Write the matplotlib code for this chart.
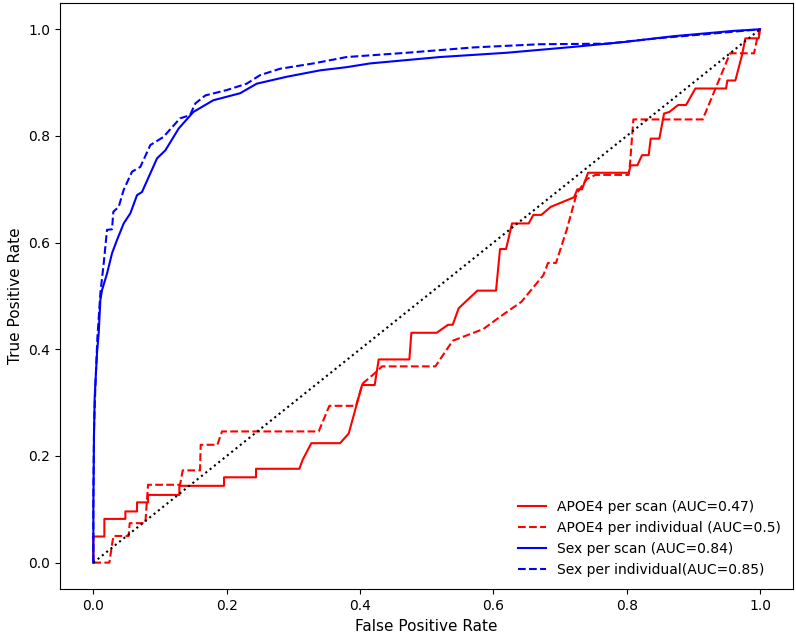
import matplotlib
matplotlib.use('Agg')
import matplotlib.pyplot as plt

# APOE4 per scan
apoe_scan_fpr = [0, 0, 0.0165, 0.0165, 0.048, 0.048, 0.0655, 0.0655, 0.082, 0.082,
                 0.129, 0.129, 0.196, 0.196, 0.244, 0.244, 0.309, 0.314, 0.327, 0.370,
                 0.383, 0.403, 0.422, 0.428, 0.474, 0.477, 0.515, 0.532, 0.539, 0.548,
                 0.576, 0.604, 0.610, 0.619, 0.628, 0.653, 0.660, 0.672, 0.686, 0.721,
                 0.726, 0.733, 0.742, 0.803, 0.806, 0.816, 0.823, 0.833, 0.836, 0.849,
                 0.856, 0.864, 0.877, 0.889, 0.903, 0.949, 0.951, 0.963, 0.973, 0.978,
                 0.998, 1.0]
apoe_scan_tpr = [0, 0.049, 0.049, 0.082, 0.082, 0.096, 0.096, 0.113, 0.113, 0.127,
                 0.127, 0.144, 0.144, 0.160, 0.160, 0.176, 0.176, 0.193, 0.224, 0.224,
                 0.242, 0.333, 0.333, 0.381, 0.381, 0.431, 0.431, 0.446, 0.446, 0.477,
                 0.510, 0.510, 0.588, 0.588, 0.636, 0.636, 0.652, 0.652, 0.667, 0.685,
                 0.700, 0.700, 0.731, 0.731, 0.745, 0.745, 0.764, 0.764, 0.795, 0.795,
                 0.842, 0.845, 0.858, 0.858, 0.889, 0.889, 0.904, 0.904, 0.952, 0.983,
                 0.983, 1.0]

# APOE4 per individual
apoe_ind_fpr = [0, 0.024, 0.030, 0.053, 0.0545, 0.078, 0.082, 0.130, 0.134, 0.160,
                0.161, 0.186, 0.193, 0.338, 0.354, 0.394, 0.404, 0.422, 0.433, 0.513,
                0.539, 0.585, 0.610, 0.642, 0.675, 0.682, 0.694, 0.710, 0.725, 0.740,
                0.753, 0.803, 0.805, 0.810, 0.914, 0.955, 0.991, 0.995, 1.0]
apoe_ind_tpr = [0, 0, 0.05, 0.05, 0.074, 0.074, 0.146, 0.146, 0.173, 0.173,
                0.221, 0.221, 0.246, 0.246, 0.294, 0.294, 0.336, 0.355, 0.368, 0.368,
                0.416, 0.438, 0.461, 0.489, 0.539, 0.562, 0.562, 0.624, 0.692, 0.719,
                0.727, 0.727, 0.748, 0.831, 0.831, 0.955, 0.955, 0.979, 1.0]

# Sex per scan
sex_scan_fpr = [0, 0, 0.001, 0.002, 0.0055, 0.008, 0.0105, 0.013, 0.0205, 0.028,
                0.0355, 0.0455, 0.0555, 0.0655, 0.073, 0.083, 0.0955, 0.108, 0.128, 0.150,
                0.180, 0.220, 0.245, 0.290, 0.340, 0.380, 0.415, 0.520, 0.620, 0.720,
                0.795, 0.870, 0.960, 1.0]
sex_scan_tpr = [0, 0.10, 0.243, 0.311, 0.393, 0.430, 0.492, 0.511, 0.542, 0.580,
                0.605, 0.636, 0.655, 0.689, 0.695, 0.723, 0.758, 0.773, 0.814, 0.845,
                0.867, 0.880, 0.898, 0.911, 0.923, 0.929, 0.936, 0.948, 0.956, 0.967,
                0.976, 0.987, 0.997, 1.0]

# Sex per individual
sex_ind_fpr = [0, 0, 0.001, 0.003, 0.006, 0.0105, 0.0155, 0.0205, 0.028, 0.030,
               0.038, 0.0455, 0.058, 0.0705, 0.0855, 0.105, 0.130, 0.145, 0.153, 0.168,
               0.200, 0.230, 0.250, 0.280, 0.330, 0.380, 0.470, 0.570, 0.670, 0.770,
               0.845, 0.920, 1.0]
sex_ind_tpr = [0, 0.12, 0.25, 0.33, 0.42, 0.505, 0.561, 0.624, 0.625, 0.658,
               0.667, 0.699, 0.733, 0.742, 0.783, 0.798, 0.833, 0.839, 0.861, 0.876,
               0.886, 0.898, 0.914, 0.926, 0.936, 0.948, 0.956, 0.966, 0.972, 0.973,
               0.983, 0.991, 1.0]

labels = ['APOE4 per scan (AUC=0.47)', 'APOE4 per individual (AUC=0.5)',
          'Sex per scan (AUC=0.84)', 'Sex per individual(AUC=0.85)']

fig = plt.figure(figsize=(7.96, 6.4), dpi=100)
ax = fig.add_axes([0.0754, 0.0792, 0.9213, 0.9167])
ax.plot(apoe_scan_fpr, apoe_scan_tpr, 'r-', label=labels[0])
ax.plot(apoe_ind_fpr, apoe_ind_tpr, 'r--', label=labels[1])
ax.plot(sex_scan_fpr, sex_scan_tpr, 'b-', label=labels[2])
ax.plot(sex_ind_fpr, sex_ind_tpr, 'b--', label=labels[3])
ax.plot([0, 1], [0, 1], 'k:')
ax.set_xlabel('False Positive Rate', fontsize=11)
ax.set_ylabel('True Positive Rate', fontsize=11)
ax.legend(loc='lower right', frameon=False, fontsize=10)
fig.savefig('out.png', dpi=100)
